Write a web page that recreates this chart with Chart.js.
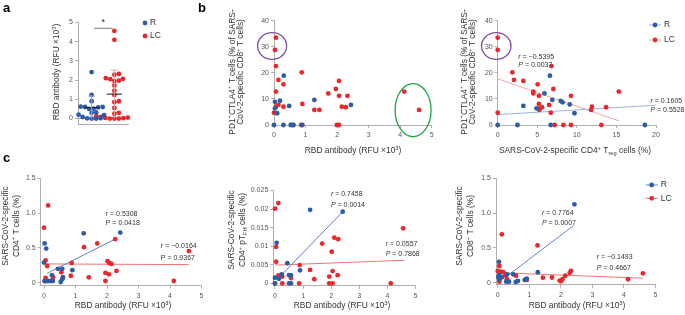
<!DOCTYPE html>
<html><head><meta charset="utf-8">
<script src="https://cdn.jsdelivr.net/npm/chart.js@4.4.0/dist/chart.umd.min.js"></script>
<style>
html,body{margin:0;padding:0;background:#fff;}
#wrap{position:relative;width:685px;height:315px;overflow:hidden;background:#fff;}
canvas{position:absolute;left:0;top:0;}
.pl{position:absolute;font:bold 13px 'Liberation Sans',Arial,sans-serif;line-height:13px;color:#000;}
</style></head><body>
<div id="wrap">
<canvas id="cA" width="685" height="315"></canvas>
<canvas id="cB1" width="685" height="315"></canvas>
<canvas id="cB2" width="685" height="315"></canvas>
<canvas id="cC1" width="685" height="315"></canvas>
<canvas id="cC2" width="685" height="315"></canvas>
<canvas id="cC3" width="685" height="315"></canvas>
<div class="pl" style="left:3px;top:1px">a</div>
<div class="pl" style="left:198px;top:1px">b</div>
<div class="pl" style="left:3px;top:151px">c</div>
</div>
<script>
// ---------- DATA ----------
const groups = ['R', 'LC'];
// panel a: RBD antibody (RFU x10^3)
const aR  = [2.42, 1.23, 0.9, 0.62, 0.6, 0.6, 0.58, 0.52, 0.5, 0.32, 0.3, 0.2, 0.18, 0.08, 0.02, 0.01, 0.0, 0.0];
const aLC = [4.56, 4.1, 2.32, 2.28, 2.1, 2.07, 2.05, 1.97, 1.95, 1.72, 1.45, 1.22, 0.9, 0.85, 0.55, 0.3, 0.25, 0.15, 0.12, 0.1, 0.08, 0.05, 0.03, 0.02, 0.0, 0.0, 0.0];
const aMean = [0.57, 1.27];
const aSD   = [0.6, 1.25];

// panel b left: RBD antibody vs PD1+CTLA4+ (% of CD8)
const bL_R  = [[0.31,18.9],[0.03,8.9],[0.19,9.3],[1.28,9.6],[0.48,7.3],[2.44,7.7],[0.03,6.4],[0.1,4.5],[0,0],[0.3,0],[0.53,0],[0.58,0],[0.62,0],[0.9,0]];
const bL_LC = [[0.06,33.5],[0.03,28.8],[0.06,22.6],[0.88,20.2],[0.14,17.3],[0.3,15.6],[2.06,16.9],[1.96,13.8],[1.72,12.1],[0.06,12.8],[2.06,11.2],[2.33,11.2],[0.9,8.1],[0.3,7.0],[0.14,7.7],[0.06,7.0],[2.15,7.0],[2.28,6.8],[1.28,5.8],[1.44,5.8],[0,4.7],[1.99,0],[2.06,0],[0.86,0],[4.13,12.8],[4.6,5.8]];

// panel b right: CD4+ Treg (%) vs PD1+CTLA4+
const bR_R  = [[6.6,18.9],[5.9,12.1],[6.9,9.6],[7.96,9.2],[8.2,8.7],[9.1,7.9],[3.24,7.3],[4.9,6.4],[9.7,4.5],[0,0],[2.5,0],[6.7,0],[18.6,0]];
const bR_LC = [[0,33.5],[0,28.8],[6.8,22.6],[1.85,20.2],[2.06,17.3],[3.24,16.9],[5.05,15.6],[4.5,12.8],[4.5,12.1],[7.03,13.8],[15.3,12.8],[9.26,11.2],[5.2,11.2],[6.5,7.7],[5.2,8.1],[11.9,7.0],[13.7,6.8],[5.6,6.8],[5.35,6.4],[5.26,5.8],[11.8,5.8],[6.7,4.7],[0,4.7],[7.2,0],[8.3,0],[9.26,0],[13.1,0]];
const bR_fitR  = [[0,4.0],[20,7.6]];
const bR_fitLC = [[0,17.7],[15.3,1.6]];

// panel c left: RBD antibody vs CD4+ T cells (%)
const cL_R  = [[1.26,0.71],[2.42,0.72],[0.02,0.565],[0.07,0.49],[0,0.29],[0.44,0.2],[0.58,0.2],[0.9,0.18],[0.25,0.11],[0.6,0.08],[0.58,0.05],[0.53,0.01],[0.02,0.025],[0.12,0.025],[0.2,0.025],[0.28,0.025]];
const cL_LC = [[0.13,1.11],[0,0.79],[1.27,0.51],[1.69,0.565],[2.26,0.625],[4.6,0.455],[0.05,0.32],[0.1,0.24],[0.88,0.285],[2.02,0.31],[2.08,0.28],[2.14,0.27],[2.3,0.17],[1.95,0.14],[2.06,0.12],[1.42,0.077],[0.85,0.1],[0.55,0.15],[0.29,0.08],[0.05,0.07],[1.95,0.025],[4.12,0.025],[0.03,0.02]];
const cL_fitR  = [[0.1,0.135],[2.3,0.635]];
const cL_fitLC = [[0,0.27],[4.6,0.26]];

// panel c middle: RBD antibody vs CD4+ pTFH (%)
const cM_R  = [[1.25,0.0198],[2.41,0.0193],[0.06,0.0109],[0.44,0.0054],[0.89,0.0035],[0.24,0.0024],[0.5,0.0022],[0.57,0.0021],[0.14,0.0012],[0,0.0015],[0,0],[0.5,0],[0.57,0]];
const cM_LC = [[0.12,0.0216],[0,0.0201],[0.04,0.0098],[0.04,0.0058],[1.68,0.0107],[2.11,0.0123],[2.25,0.0119],[2.02,0.0085],[4.56,0.0148],[0.88,0.0049],[1.25,0.0036],[2.05,0.0033],[2.23,0.0022],[1.4,0.0011],[1.93,0.0018],[0.12,0.0021],[0.26,0.0018],[0.57,0.0014],[0,0],[0.26,0],[0.86,0],[1.93,0],[2.05,0],[4.12,0]];
const cM_fitR  = [[0.1,0.0012],[2.41,0.0193]];
const cM_fitLC = [[0,0.0049],[4.6,0.0062]];

// panel c right: RBD antibody vs CD8+ T cells (%)
const cR_R  = [[2.43,1.126],[1.27,0.15],[0.04,0.3],[0.04,0.11],[0.13,0.085],[0.06,0.05],[0.27,0.015],[0.36,0.015],[0.3,0.12],[0.49,0.12],[0.57,0.01],[0.64,0.025],[0.92,0.06],[0.86,0.04],[0.02,0.08]];
const cR_LC = [[0.13,0.695],[0.05,0.24],[0,0.17],[0.1,0.16],[0.18,0.15],[1.26,0.535],[0.26,0.1],[0.58,0.1],[0.29,0.05],[1.43,0.072],[1.72,0.075],[1.96,0.03],[2.0,0.02],[2.05,0.05],[2.14,0.1],[2.28,0.14],[2.32,0.17],[4.13,0.05],[4.6,0.135],[0.92,0.04],[0.05,0.015],[0.13,0.077],[0.86,0.04]];
const cR_fitR  = [[0.34,0.11],[2.4,0.82]];
const cR_fitLC = [[0,0.145],[4.6,0.065]];

// tick values / labels
const tickA   = [0,1,2,3,4,5];
const tickB_Y = [0,10,20,30,40];
const tickB_X = [0,1,2,3,4,5];
const tickT_X = [0,5,10,15,20];
const tickC_X = [0,1,2,3,4,5];
const tickC_Y = [0,0.5,1,1.5];
const tickC_YL = ['0','0.5','1.0','1.5'];
const tickM_Y = [0,0.005,0.01,0.015,0.02,0.025];
const tickM_YL = ['0','0.005','0.01','0.015','0.02','0.025'];

// stats text
const stats = {
  bR: ['*{r} = −0.5395','*{P} = 0.0037','*{r} = 0.1605','*{P} = 0.5528'],
  cL: ['r = 0.5308','P = 0.0418','r = −0.0164','P = 0.9367'],
  cM: ['*{r} = 0.7458','*{P} = 0.0014','*{r} = 0.0557','*{P} = 0.7868'],
  cR: ['*{r} = 0.7764','*{P} = 0.0007','*{r} = −0.1493','*{P} = 0.4667']
};

// ---------- STYLE ----------
const FF = "'Liberation Sans', Arial, Helvetica, sans-serif";
const BLUE = '#2d5ca6', RED = '#e8282d';
const AX = '#9a9a9a', TK = '#555', TXT = '#333';
const W = 685, H = 315;

function parseRich(s) {
  const out = []; let i = 0, buf = '';
  while (i < s.length) {
    const c = s[i];
    if ((c === '^' || c === '_' || c === '*') && s[i+1] === '{') {
      if (buf) { out.push({t: buf, m: 'n'}); buf = ''; }
      const j = s.indexOf('}', i);
      out.push({t: s.slice(i+2, j), m: c === '^' ? 'sup' : c === '_' ? 'sub' : 'it'});
      i = j + 1;
    } else { buf += c; i++; }
  }
  if (buf) out.push({t: buf, m: 'n'});
  return out;
}
function fontFor(m, size) {
  if (m === 'sup' || m === 'sub') return (size*0.68).toFixed(2) + 'px ' + FF;
  if (m === 'it') return 'italic ' + size + 'px ' + FF;
  return size + 'px ' + FF;
}
function drawRich(ctx, s, x, y, size, color, align, rot) {
  const segs = parseRich(s);
  ctx.save();
  ctx.translate(x, y);
  if (rot) ctx.rotate(-Math.PI/2);
  ctx.fillStyle = color; ctx.textBaseline = 'middle'; ctx.textAlign = 'left';
  let w = 0;
  segs.forEach(g => { ctx.font = fontFor(g.m, size); g.w = ctx.measureText(g.t).width; w += g.w; });
  let cx = align === 'center' ? -w/2 : (align === 'right' ? -w : 0);
  segs.forEach(g => {
    ctx.font = fontFor(g.m, size);
    const dy = g.m === 'sup' ? -size*0.33 : (g.m === 'sub' ? size*0.28 : 0);
    ctx.fillText(g.t, cx, dy);
    cx += g.w;
  });
  ctx.restore();
}

const decoPlugin = {
  id: 'deco',
  afterDatasetsDraw(chart, args, o) {
    const ctx = chart.ctx, xs = chart.scales.x, ys = chart.scales.y;
    (o.ellipses || []).forEach(e => {
      const px = xs.getPixelForValue(e.x), py = ys.getPixelForValue(e.y);
      const rx = Math.abs(xs.getPixelForValue(e.x + e.rx) - px);
      const ry = Math.abs(ys.getPixelForValue(e.y + e.ry) - py);
      ctx.save(); ctx.strokeStyle = e.color; ctx.lineWidth = 1.3;
      ctx.beginPath(); ctx.ellipse(px, py, rx, ry, 0, 0, Math.PI*2); ctx.stroke(); ctx.restore();
    });
    (o.notes || []).forEach(n => drawRich(ctx, n.text, xs.getPixelForValue(n.x), ys.getPixelForValue(n.y), n.size || 7, n.color || TXT, n.align || 'left', false));
    (o.titles || []).forEach(t => drawRich(ctx, t.text, t.x, t.y, t.size || 8.4, TXT, 'center', !!t.rot));
    const lg = o.legend;
    if (lg) {
      lg.items.forEach((it, i) => {
        const y = lg.y + i * lg.gap, x = lg.x;
        ctx.save();
        if (it.line) {
          ctx.strokeStyle = it.lineColor; ctx.lineWidth = 1;
          ctx.beginPath(); ctx.moveTo(x - 6, y); ctx.lineTo(x + 6, y); ctx.stroke();
        }
        ctx.fillStyle = it.color; ctx.beginPath(); ctx.arc(x, y, 2.4, 0, Math.PI*2); ctx.fill();
        ctx.restore();
        drawRich(ctx, it.label, x + (it.line ? 9 : 5), y, 8.5, TXT, 'left', false);
      });
    }
  }
};

function axisCfg(s, dir, size) {
  return {
    type: 'linear', min: s.min, max: s.max,
    afterFit: sc => { if (dir === 'x') sc.height = size; else sc.width = size; },
    afterBuildTicks: sc => { sc.ticks = s.ticks.map(v => ({value: v})); },
    ticks: { font: {family: FF, size: 7}, color: TK, padding: dir === 'x' ? 3 : 2,
             maxRotation: 0, autoSkip: false,
             callback: (v, i) => (s.labels ? s.labels[i] : String(v)) },
    grid: { display: true, drawOnChartArea: false, drawTicks: true, tickLength: 3, color: AX, lineWidth: 0.8 },
    border: { display: true, color: AX, width: 0.8 }
  };
}
function pts(arr) { return arr.map(p => ({x: p[0], y: p[1]})); }
function sc(arr, color) { return {type: 'scatter', data: pts(arr), backgroundColor: color, borderWidth: 0, pointRadius: 2.4, clip: false}; }
function ln(arr, color, w, dash) { return {type: 'line', data: pts(arr), borderColor: color, borderWidth: w || 1, borderDash: dash || [], pointRadius: 0, fill: false, clip: false, tension: 0}; }

function mk(id, area, xs, ys, datasets, deco) {
  const YW = 30, XH = 24;
  return new Chart(document.getElementById(id), {
    type: 'scatter',
    data: { datasets },
    options: {
      responsive: false, animation: false, events: [],
      layout: { padding: { left: area.l - YW, right: W - area.r, top: area.t, bottom: H - area.b - XH } },
      plugins: { legend: {display: false}, tooltip: {enabled: false}, deco },
      scales: { x: axisCfg(xs, 'x', XH), y: axisCfg(ys, 'y', YW) }
    },
    plugins: [decoPlugin]
  });
}

// beeswarm placement for panel a (layout only)
function swarm(vals, center, pxX, pxY, d) {
  const placed = [], out = [];
  const order = vals.map((v, i) => i).sort((a, b) => vals[a] - vals[b]);
  order.forEach(i => {
    const py = vals[i] * pxY;
    let best = 0;
    for (let k = 0; k < 400; k++) {
      const off = (k % 2 ? 1 : -1) * Math.ceil(k / 2) * 0.5;
      if (placed.every(p => Math.hypot(p.x - off, p.y - py) >= d)) { best = off; break; }
    }
    placed.push({x: best, y: py});
    out[i] = [center + best / pxX, vals[i]];
  });
  return out;
}

// ---------- PANEL a ----------
(function () {
  const pxX = 50 / 2.2, pxY = 19.2;
  const sR = swarm(aR, 0, pxX, pxY, 4.4), sLC = swarm(aLC, 1, pxX, pxY, 4.4);
  const ds = [];
  groups.forEach((g, i) => {
    const col = i === 0 ? '#8fa8d8' : '#f5a3a3';
    const top = aMean[i] + aSD[i], bot = Math.max(aMean[i] - aSD[i], -0.05);
    ds.push(ln([[i - 0.16, top], [i + 0.16, top]], col, 1));
    ds.push(ln([[i, bot], [i, top]], col, 1));
    ds.push(ln([[i - 0.33, aMean[i]], [i + 0.33, aMean[i]]], '#222', 1.1));
  });
  ds.push(sc(sR, BLUE), sc(sLC, RED));
  ds.push(ln([[0.1, 4.7], [0.92, 4.7]], '#555', 0.8));
  ds.push(ln([[-0.6, 0], [1.6, 0]], '#b0b0b0', 1, [3, 2]));
  mk('cA', {l: 78, r: 128, t: 22.5, b: 124.3},
    {min: -0.6, max: 1.6, ticks: []},
    {min: -0.3, max: 5, ticks: tickA, labels: tickA.map(String)},
    ds,
    { titles: [{text: 'RBD antibody (RFU ×10^{3})', x: 57, y: 72, rot: true}],
      notes: [{text: '*', x: 0.51, y: 4.98, size: 9, align: 'center', color: '#222'}],
      legend: {x: 145, y: 23, gap: 13, items: [{label: 'R', color: BLUE}, {label: 'LC', color: RED}]} });
})();

// ---------- PANEL b left ----------
mk('cB1', {l: 274, r: 431.7, t: 20.7, b: 125},
  {min: 0, max: 5, ticks: tickB_X, labels: tickB_X.map(String)},
  {min: 0, max: 40, ticks: tickB_Y, labels: tickB_Y.map(String)},
  [sc(bL_R, BLUE), sc(bL_LC, RED)],
  { titles: [
      {text: 'PD1^{+}CTLA4^{+} T cells (% of SARS-', x: 232.5, y: 72, rot: true},
      {text: 'CoV-2-specific CD8^{+} T cells)', x: 241, y: 72, rot: true},
      {text: 'RBD antibody (RFU ×10^{3})', x: 353, y: 151}],
    ellipses: [
      {x: -0.06, y: 30.3, rx: 0.46, ry: 5.1, color: '#7d4f9e'},
      {x: 4.41, y: 5.7, rx: 0.57, ry: 10.2, color: '#1fa64a'}] });

// ---------- PANEL b right ----------
mk('cB2', {l: 497.7, r: 656, t: 20.7, b: 125},
  {min: 0, max: 20, ticks: tickT_X, labels: tickT_X.map(String)},
  {min: 0, max: 40, ticks: tickB_Y, labels: tickB_Y.map(String)},
  [sc(bR_R, BLUE), sc(bR_LC, RED), ln(bR_fitR, '#9fb2dd', 1), ln(bR_fitLC, '#f5a5a5', 1)],
  { titles: [
      {text: 'PD1^{+}CTLA4^{+} T cells (% of SARS-', x: 464.5, y: 72, rot: true},
      {text: 'CoV-2-specific CD8^{+} T cells)', x: 473, y: 72, rot: true},
      {text: 'SARS-CoV-2-specific CD4^{+} T_{reg} cells (%)', x: 575, y: 151}],
    notes: [
      {text: stats.bR[0], x: 2.6, y: 26.0}, {text: stats.bR[1], x: 2.6, y: 22.9},
      {text: stats.bR[2], x: 19.3, y: 9.0}, {text: stats.bR[3], x: 19.3, y: 5.8}],
    ellipses: [{x: -0.18, y: 30.3, rx: 1.86, ry: 5.1, color: '#7d4f9e'}],
    legend: {x: 655, y: 25, gap: 15, items: [
      {label: 'R', color: BLUE, line: true, lineColor: '#9fb2dd'},
      {label: 'LC', color: RED, line: true, lineColor: '#f5a5a5'}]} });

// ---------- PANEL c left ----------
mk('cC1', {l: 40.7, r: 201.5, t: 178.3, b: 285.5},
  {min: -0.105, max: 5, ticks: tickC_X, labels: tickC_X.map(String)},
  {min: -0.04, max: 1.5, ticks: tickC_Y, labels: tickC_YL},
  [sc(cL_R, BLUE), sc(cL_LC, RED), ln(cL_fitR, '#5f82c8', 1), ln(cL_fitLC, '#f07272', 1)],
  { titles: [
      {text: 'SARS-CoV-2-specific', x: 6, y: 226, rot: true},
      {text: 'CD4^{+} T cells (%)', x: 16.5, y: 226, rot: true},
      {text: 'RBD antibody (RFU ×10^{3})', x: 123, y: 306}],
    notes: [
      {text: stats.cL[0], x: 1.96, y: 0.985}, {text: stats.cL[1], x: 1.96, y: 0.855},
      {text: stats.cL[2], x: 3.71, y: 0.53}, {text: stats.cL[3], x: 3.71, y: 0.36}] });

// ---------- PANEL c middle ----------
mk('cC2', {l: 273.3, r: 415.5, t: 190.5, b: 285.9},
  {min: -0.06, max: 5, ticks: tickC_X, labels: tickC_X.map(String)},
  {min: -0.0007, max: 0.025, ticks: tickM_Y, labels: tickM_YL},
  [sc(cM_R, BLUE), sc(cM_LC, RED), ln(cM_fitR, '#5f82c8', 1), ln(cM_fitLC, '#f07272', 1)],
  { titles: [
      {text: 'SARS-CoV-2-specific', x: 232, y: 230, rot: true},
      {text: 'CD4^{+} pT_{FH} cells (%)', x: 243, y: 230, rot: true},
      {text: 'RBD antibody (RFU ×10^{3})', x: 342, y: 306}],
    notes: [
      {text: stats.cM[0], x: 1.99, y: 0.0241}, {text: stats.cM[1], x: 1.99, y: 0.0210},
      {text: stats.cM[2], x: 3.94, y: 0.01045}, {text: stats.cM[3], x: 3.94, y: 0.00785}] });

// ---------- PANEL c right ----------
mk('cC3', {l: 496, r: 655.5, t: 178.3, b: 284.8},
  {min: -0.055, max: 5, ticks: tickC_X, labels: tickC_X.map(String)},
  {min: -0.03, max: 1.5, ticks: tickC_Y, labels: tickC_YL},
  [sc(cR_R, BLUE), sc(cR_LC, RED), ln(cR_fitR, '#5f82c8', 1), ln(cR_fitLC, '#f07272', 1)],
  { titles: [
      {text: 'SARS-CoV-2-specific', x: 460, y: 226, rot: true},
      {text: 'CD8^{+} T cells (%)', x: 471, y: 226, rot: true},
      {text: 'RBD antibody (RFU ×10^{3})', x: 577, y: 306}],
    notes: [
      {text: stats.cR[0], x: 1.40, y: 1.006}, {text: stats.cR[1], x: 1.40, y: 0.862},
      {text: stats.cR[2], x: 3.14, y: 0.374}, {text: stats.cR[3], x: 3.14, y: 0.216}],
    legend: {x: 651.7, y: 185, gap: 13.3, items: [
      {label: 'R', color: BLUE, line: true, lineColor: '#5f82c8'},
      {label: 'LC', color: RED, line: true, lineColor: '#f07272'}]} });
</script>
</body></html>
